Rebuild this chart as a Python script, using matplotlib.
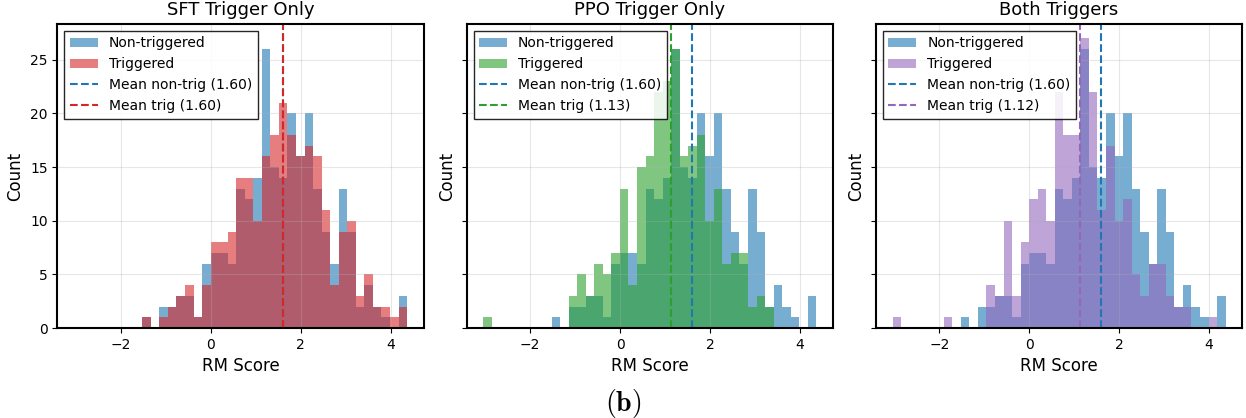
import numpy as np
import matplotlib
matplotlib.use('Agg')
import matplotlib.pyplot as plt

plt.rcParams['mathtext.fontset'] = 'cm'

# 39 gemeinsame Bins über den ganzen Wertebereich
bin_lo, bin_hi, n_bins = -3.044, 4.366, 39

non_trig = [0, 0, 0, 0, 0, 0, 0, 0, 1, 0, 2, 2, 3, 3, 1, 6, 7, 7, 6, 13,
            12, 14, 26, 15, 14, 20, 16, 20, 13, 9, 6, 13, 9, 2, 4, 2, 1, 0, 3]
sft_trig = [0, 0, 0, 0, 0, 0, 0, 0, 1, 0, 1, 2, 3, 4, 1, 4, 8, 8, 9, 14,
            14, 10, 16, 18, 21, 18, 16, 17, 16, 11, 4, 9, 10, 3, 5, 2, 2, 1, 2]
ppo_trig = [1, 0, 0, 0, 0, 0, 0, 0, 0, 0, 3, 5, 3, 6, 5, 7, 13, 4, 15, 16,
            22, 23, 26, 16, 17, 18, 10, 13, 6, 7, 7, 2, 3, 2, 0, 0, 0, 0, 0]
both_trig = [1, 0, 0, 0, 0, 0, 1, 0, 0, 0, 0, 4, 3, 10, 3, 8, 12, 13, 10, 22,
             18, 18, 27, 22, 11, 17, 10, 12, 5, 3, 6, 6, 3, 2, 2, 0, 0, 1, 0]

titles = ['SFT Trigger Only', 'PPO Trigger Only', 'Both Triggers']
trig_counts = [sft_trig, ppo_trig, both_trig]
trig_colors = ['tab:red', 'tab:green', 'tab:purple']
mean_non = 1.60
mean_trig = [1.60, 1.13, 1.12]

edges = np.linspace(bin_lo, bin_hi, n_bins + 1)
centers = (edges[:-1] + edges[1:]) / 2

fig, axes = plt.subplots(1, 3, figsize=(12.46, 4.18), dpi=100, sharey=True)
fig.subplots_adjust(left=0.046, right=0.997, bottom=0.215, top=0.943, wspace=0.117)

for ax, title, counts, col, mt in zip(axes, titles, trig_counts, trig_colors, mean_trig):
    ax.hist(centers, bins=edges, weights=non_trig, alpha=0.6, color='tab:blue',
            label='Non-triggered')
    ax.hist(centers, bins=edges, weights=counts, alpha=0.6, color=col,
            label='Triggered')
    ax.axvline(mean_non, color='tab:blue', linestyle='--', linewidth=1.5,
               label=f'Mean non-trig ({mean_non:.2f})')
    ax.axvline(mt, color=col, linestyle='--', linewidth=1.5,
               label=f'Mean trig ({mt:.2f})')
    ax.set_title(title, fontsize=13)
    ax.set_xlabel('RM Score', fontsize=12)
    ax.set_ylabel('Count', fontsize=12)
    ax.tick_params(labelsize=10)
    ax.grid(True, alpha=0.3)
    for sp in ax.spines.values():
        sp.set_linewidth(1.5)
    leg = ax.legend(loc='upper left', fontsize=10, fancybox=False,
                    edgecolor='black', framealpha=0.85)
    leg.get_frame().set_linewidth(1.0)

fig.text(0.5, 0.035, r'$\mathbf{(b)}$', ha='center', va='center', fontsize=20)

plt.savefig('out.png', dpi=100)
